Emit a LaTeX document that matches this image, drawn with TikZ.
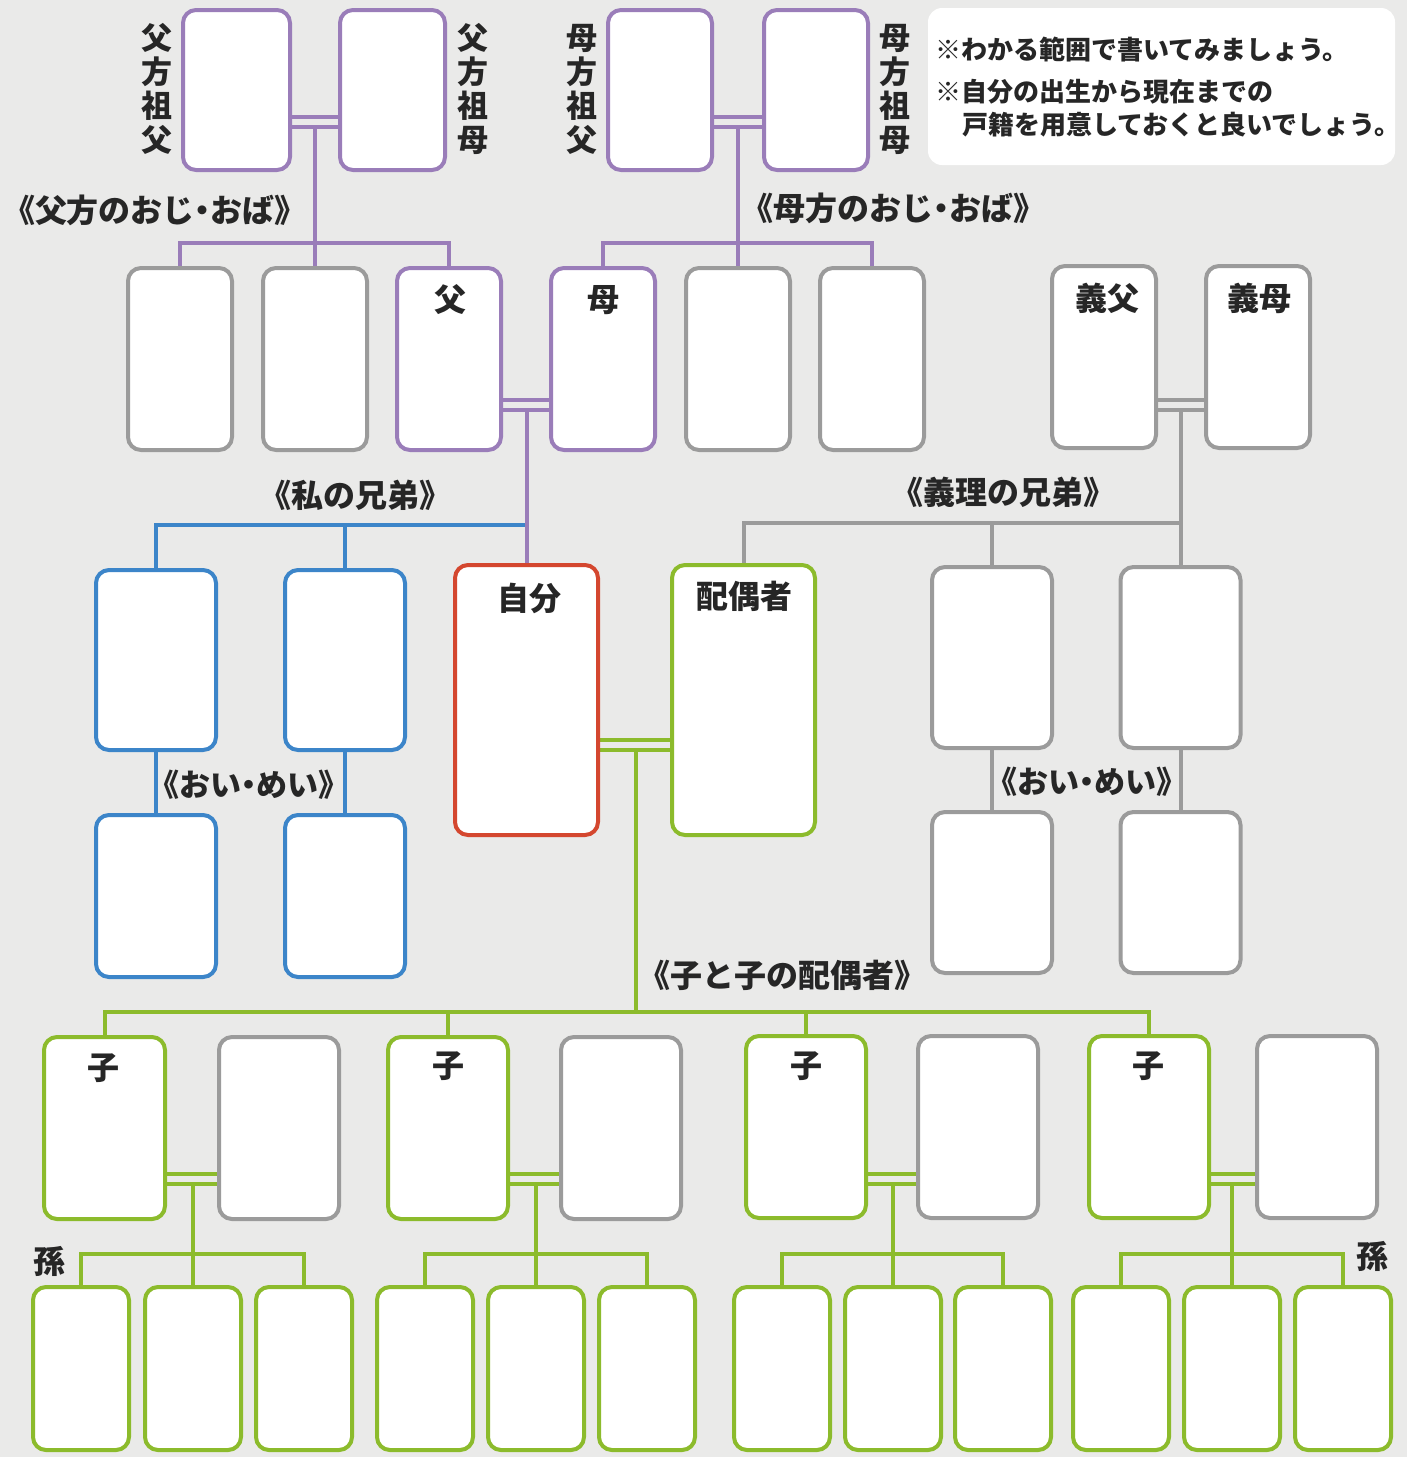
\documentclass[tikz,border=0pt]{standalone}
\usepackage{fontspec}
\setmainfont{Noto Sans CJK JP}
\usetikzlibrary{calc}
\definecolor{bgc}{HTML}{EAEAE9}
\definecolor{cpur}{HTML}{9A7DB9}
\definecolor{cblu}{HTML}{3C85C9}
\definecolor{cred}{HTML}{D4472F}
\definecolor{cgrn}{HTML}{8CBB2C}
\definecolor{cgry}{HTML}{9B9B9B}
\definecolor{ctxt}{HTML}{262626}
\newcommand{\ndot}{\kern-0.25em・\kern-0.25em}
\tikzset{
  box/.style={draw=#1, line width=4pt, rounded corners=13pt, fill=white, inner sep=0pt},
  conn/.style={draw=#1, line width=4pt},
  dbl/.style={draw=#1, line width=3.5pt},
  lbl/.style={font=\fontsize{32}{34}\selectfont\bfseries, text=ctxt, inner sep=0pt},
  vlbl/.style={font=\fontsize{31}{34}\selectfont\bfseries, text=ctxt, inner sep=0pt, align=center},
  hd/.style={font=\fontsize{32}{34}\selectfont\bfseries, text=ctxt, inner sep=0pt},
  hds/.style={font=\fontsize{31}{33}\selectfont\bfseries, text=ctxt, inner sep=0pt},
  nt/.style={font=\fontsize{26}{28}\selectfont\bfseries, text=ctxt, inner sep=0pt, anchor=west},
}
\begin{document}
\begin{tikzpicture}[x=1pt,y=-1pt]
\useasboundingbox[fill=bgc] (0,0) rectangle (1407,1457);
% level coordinates
\coordinate (yA) at (0,117); \coordinate (yB) at (0,127);
\coordinate (yC) at (0,400); \coordinate (yD) at (0,410);
\coordinate (yE) at (0,740); \coordinate (yF) at (0,750);
\coordinate (yG) at (0,1174); \coordinate (yH) at (0,1184);
\coordinate (bar1) at (0,243);
\coordinate (bar3) at (0,525);
\coordinate (bar4) at (0,523);
\coordinate (bar5) at (0,1012);
\coordinate (bar6) at (0,1254);

% grandparents
\node[box=cpur, minimum width=103pt, minimum height=156pt] (pgf) at (236.5,90) {};
\node[box=cpur, minimum width=101pt, minimum height=156pt] (pgm) at (392.5,90) {};
\node[box=cpur, minimum width=100pt, minimum height=156pt] (mgf) at (660,90) {};
\node[box=cpur, minimum width=100pt, minimum height=156pt] (mgm) at (816,90) {};
% row 2
\node[box=cgry, minimum width=100pt, minimum height=178pt] (u1) at (180,359) {};
\node[box=cgry, minimum width=100pt, minimum height=178pt] (u2) at (315,359) {};
\node[box=cpur, minimum width=100pt, minimum height=178pt] (fa) at (449,359) {};
\node[box=cpur, minimum width=100pt, minimum height=178pt] (mo) at (603,359) {};
\node[box=cgry, minimum width=100pt, minimum height=178pt] (u5) at (738,359) {};
\node[box=cgry, minimum width=100pt, minimum height=178pt] (u6) at (872,359) {};
\node[box=cgry, minimum width=100pt, minimum height=178pt] (ifa) at (1104,357) {};
\node[box=cgry, minimum width=100pt, minimum height=178pt] (imo) at (1258,357) {};
% row 3
\node[box=cblu, minimum width=116pt, minimum height=176pt] (s1) at (156,660) {};
\node[box=cblu, minimum width=116pt, minimum height=176pt] (s2) at (345,660) {};
\node[box=cred, minimum width=139pt, minimum height=266pt] (me) at (526.5,700) {};
\node[box=cgrn, minimum width=139pt, minimum height=266pt] (sp) at (743.5,700) {};
\node[box=cgry, minimum width=116pt, minimum height=177pt] (is1) at (992,657.5) {};
\node[box=cgry, minimum width=116pt, minimum height=177pt] (is2) at (1180.5,657.5) {};
\node[box=cblu, minimum width=116pt, minimum height=158pt] (n1) at (156,896) {};
\node[box=cblu, minimum width=116pt, minimum height=158pt] (n2) at (345,896) {};
\node[box=cgry, minimum width=116pt, minimum height=157pt] (in1) at (992,892.5) {};
\node[box=cgry, minimum width=116pt, minimum height=157pt] (in2) at (1180.5,892.5) {};
% children
\node[box=cgrn, minimum width=117pt, minimum height=178pt] (c1) at (104.5,1128) {};
\node[box=cgry, minimum width=116pt, minimum height=178pt] (cs1) at (279,1128) {};
\node[box=cgrn, minimum width=116pt, minimum height=178pt] (c2) at (448,1128) {};
\node[box=cgry, minimum width=116pt, minimum height=178pt] (cs2) at (621,1128) {};
\node[box=cgrn, minimum width=116pt, minimum height=178pt] (c3) at (806,1127) {};
\node[box=cgry, minimum width=116pt, minimum height=178pt] (cs3) at (978,1127) {};
\node[box=cgrn, minimum width=116pt, minimum height=178pt] (c4) at (1149,1127) {};
\node[box=cgry, minimum width=116pt, minimum height=178pt] (cs4) at (1317,1127) {};
% grandchildren
\foreach \g/\a/\b/\c in {1/81/193/304, 2/425/536/647, 3/782/893/1003, 4/1121/1232/1343}{
  \node[box=cgrn, minimum width=92pt, minimum height=159pt] (g\g1) at (\a,1368.5) {};
  \node[box=cgrn, minimum width=92pt, minimum height=159pt] (g\g2) at (\b,1368.5) {};
  \node[box=cgrn, minimum width=92pt, minimum height=159pt] (g\g3) at (\c,1368.5) {};
}

% paternal grandparents
\draw[dbl=cpur] (pgf.east |- yA) -- (pgm.west |- yA);
\draw[dbl=cpur] (pgf.east |- yB) -- (pgm.west |- yB);
\draw[conn=cpur] (u2.north |- yB) -- (u2.north);
\draw[conn=cpur] (u1.north) |- (fa.north |- bar1) -- (fa.north);
% maternal grandparents
\draw[dbl=cpur] (mgf.east |- yA) -- (mgm.west |- yA);
\draw[dbl=cpur] (mgf.east |- yB) -- (mgm.west |- yB);
\draw[conn=cpur] (u5.north |- yB) -- (u5.north);
\draw[conn=cpur] (mo.north) |- (u6.north |- bar1) -- (u6.north);
% siblings
\draw[conn=cblu] (s1.north) |- (me.north |- bar3);
\draw[conn=cblu] (s2.north) -- (s2.north |- bar3);
\draw[conn=cblu] (s1.south) -- (n1.north);
\draw[conn=cblu] (s2.south) -- (n2.north);
% parents
\draw[dbl=cpur] (fa.east |- yC) -- (mo.west |- yC);
\draw[dbl=cpur] (fa.east |- yD) -- (mo.west |- yD);
\draw[conn=cpur] (me.north |- yD) -- (me.north);
% in-laws
\draw[dbl=cgry] (ifa.east |- yC) -- (imo.west |- yC);
\draw[dbl=cgry] (ifa.east |- yD) -- (imo.west |- yD);
\draw[conn=cgry] (is2.north |- yD) -- (is2.north);
\draw[conn=cgry] (sp.north) |- (is2.north |- bar4);
\draw[conn=cgry] (is1.north) -- (is1.north |- bar4);
\draw[conn=cgry] (is1.south) -- (in1.north);
\draw[conn=cgry] (is2.south) -- (in2.north);
% self and spouse
\draw[dbl=cgrn] (me.east |- yE) -- (sp.west |- yE);
\draw[dbl=cgrn] (me.east |- yF) -- (sp.west |- yF);
\coordinate (mv) at (636,750);
\draw[conn=cgrn] (mv) -- (mv |- bar5);
\draw[conn=cgrn] (c1.north) |- (c4.north |- bar5) -- (c4.north);
\draw[conn=cgrn] (c2.north) -- (c2.north |- bar5);
\draw[conn=cgrn] (c3.north) -- (c3.north |- bar5);
% children couples
\foreach \i in {1,2,3,4}{
  \draw[dbl=cgrn] (c\i.east |- yG) -- (cs\i.west |- yG);
  \draw[dbl=cgrn] (c\i.east |- yH) -- (cs\i.west |- yH);
  \draw[conn=cgrn] (g\i2.north |- yH) -- (g\i2.north);
  \draw[conn=cgrn] (g\i1.north) |- (g\i3.north |- bar6) -- (g\i3.north);
}

% redraw box outlines on top of connector ends
\foreach \n/\c in {pgf/cpur,pgm/cpur,mgf/cpur,mgm/cpur,u1/cgry,u2/cgry,fa/cpur,mo/cpur,u5/cgry,u6/cgry,ifa/cgry,imo/cgry,s1/cblu,s2/cblu,me/cred,sp/cgrn,is1/cgry,is2/cgry,n1/cblu,n2/cblu,in1/cgry,in2/cgry,c1/cgrn,cs1/cgry,c2/cgrn,cs2/cgry,c3/cgrn,cs3/cgry,c4/cgrn,cs4/cgry}{
  \draw[line width=4pt, draw=\c, fill=white, rounded corners=13pt] (\n.north west) rectangle (\n.south east);
}
\foreach \g in {1,2,3,4}{\foreach \k in {1,2,3}{
  \draw[line width=4pt, draw=cgrn, fill=white, rounded corners=13pt] (g\g\k.north west) rectangle (g\g\k.south east);
}}

% note box
\node[fill=white, rounded corners=14pt, minimum width=467pt, minimum height=157pt, inner sep=0pt] (note) at (1161.5,86.5) {};
\node[nt] (nt1) at (935,50) {※わかる範囲で書いてみましょう。};
\node[nt] (nt2) at (935,92) {※自分の出生から現在までの};
\node[nt] (nt3) at (962,125) {戸籍を用意しておくと良いでしょう。};

% vertical labels
\node[vlbl] (lpgf) at (157,89) {父\\方\\祖\\父};
\node[vlbl] (lpgm) at (473,89) {父\\方\\祖\\母};
\node[vlbl] (lmgf) at (582,89) {母\\方\\祖\\父};
\node[vlbl] (lmgm) at (895,89) {母\\方\\祖\\母};

% headings
\node[hd] (h1) at (155,210) {《父方のおじ\ndot おば》};
\node[hd] (h2) at (893,208) {《母方のおじ\ndot おば》};
\node[hd] (h3) at (355,495) {《私の兄弟》};
\node[hd] (h4) at (1003,492) {《義理の兄弟》};
\node[hds] (h5) at (249,785) {《おい\ndot めい》};
\node[hds] (h6) at (1087,782) {《おい\ndot めい》};
\node[hd] (h7) at (782,975) {《子と子の配偶者》};

% box labels
\node[lbl] (tfa) at (450,300) {父};
\node[lbl] (tmo) at (603,300) {母};
\node[lbl] (tifa) at (1107,298) {義父};
\node[lbl] (timo) at (1259,298) {義母};
\node[lbl] (tme) at (529,598) {自分};
\node[lbl] (tsp) at (744,596) {配偶者};
\node[lbl] (tc1) at (103,1068) {子};
\node[lbl] (tc2) at (448,1066) {子};
\node[lbl] (tc3) at (806,1066) {子};
\node[lbl] (tc4) at (1148,1066) {子};
\node[lbl] (tg1) at (50,1261) {孫};
\node[lbl] (tg2) at (1372,1256) {孫};
\end{tikzpicture}
\end{document}
